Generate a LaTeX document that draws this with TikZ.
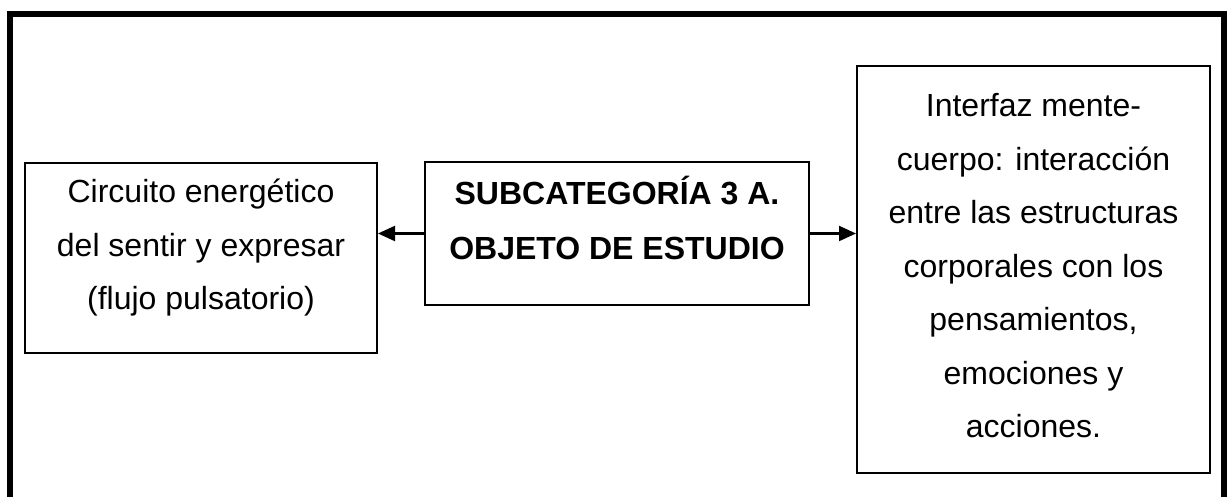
\documentclass[tikz,border=0pt]{standalone}
\usepackage{fontspec}
\setmainfont{Liberation Sans}
\usetikzlibrary{arrows.meta}
\begin{document}
\begin{tikzpicture}[x=0.5pt,y=-0.5pt,
	box/.style={draw=black, line width=1pt, inner sep=0pt},
	txt/.style={align=center, inner sep=0pt, font=\fontsize{16}{26.75}\selectfont},
	link/.style={line width=1.1pt, -{Triangle[length=8.5pt,width=7.5pt]}}]
	\useasboundingbox (0,0) rectangle (1227,497);
	% frame, open at the bottom
	\draw[line width=3pt] (10,497) -- (10,14) -- (1223.5,14) -- (1223.5,497);
	\node (L) at ( 201, 258)	[box, minimum width=176pt, minimum height=95pt]	{};
	\node (C) at ( 617, 233.5)	[box, minimum width=192pt, minimum height=71.5pt]	{};
	\node (R) at (1033.5, 269.5)	[box, minimum width=176.5pt, minimum height=203.5pt]	{};
	\node (Ltext) at ( 201, 248)	[txt]	{Circuito energético\\del sentir y expresar\\(flujo pulsatorio)};
	\node (Ctext) at ( 617, 218)	[txt, font=\fontsize{16}{27.5}\selectfont\bfseries]	{SUBCATEGORÍA 3 A.\\OBJETO DE ESTUDIO};
	\node (Rtext) at (1033.5, 266)	[txt]	{Interfaz mente-\\cuerpo: interacción\\entre las estructuras\\corporales con los\\pensamientos,\\emociones y\\acciones.};
	\draw[link] (C.west) -- (C.west -| L.east);
	\draw[link] (C.east) -- (C.east -| R.west);
\end{tikzpicture}
\end{document}
